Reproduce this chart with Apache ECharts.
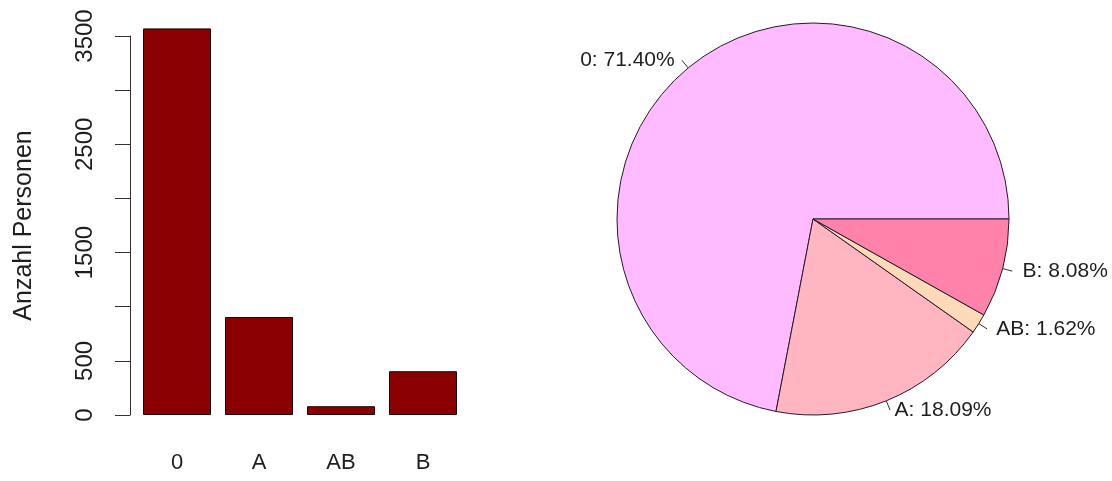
<!DOCTYPE html>
<html>
<head>
<meta charset="utf-8">
<script src="https://cdn.jsdelivr.net/npm/echarts@6/dist/echarts.min.js"></script>
<style>
	html, body { margin: 0; padding: 0; background: #fff; }
	#main { width: 1112px; height: 481px; }
</style>
</head>
<body>
<div id="main"></div>
<script>
// Blutgruppen
var categories = ['0', 'A', 'AB', 'B'];
var counts = [3570, 905, 81, 404];
var pieLabels = ['0: 71.40%', 'A: 18.09%', 'AB: 1.62%', 'B: 8.08%'];
var pieColors = ['#FFBBFF', '#FFB6C1', '#FFDAB9', '#FF82AB'];
var yTickLabels = ['0', '500', '1500', '2500', '3500'];

var font = 'Liberation Sans, Arial, sans-serif';
var txt = '#1e1e1e';
var pieR = 196;
var lineLen = 10;

// R setzt den Text bei 1.1*r, echarts nach der Linie horizontal -> Abstand je Stueck
function labelGap(i){
	var total = 0, acc = 0;
	for (var k = 0; k < counts.length; k++) total += counts[k];
	for (var k = 0; k < i; k++) acc += counts[k];
	var mid = (acc + counts[i] / 2) / total * Math.PI * 2;
	return 1 + Math.abs(Math.cos(mid)) * (0.1 * pieR - lineLen);
}

var pieData = [];
for (var i = 0; i < categories.length; i++) {
	pieData.push({
		name: pieLabels[i],
		value: counts[i],
		itemStyle: { color: pieColors[i] },
		label: { distanceToLabelLine: labelGap(i) }
	});
}

var option = {
	animation: false,
	backgroundColor: '#fff',
	textStyle: { fontFamily: font },
	grid: {
		left: 136,
		top: 36,
		width: 328,
		bottom: 66
	},
	xAxis: {
		type: 'category',
		data: categories,
		axisLine: { show: false },
		axisTick: { show: false },
		axisLabel: {
			margin: 37,
			fontSize: 22,
			color: txt,
			fontFamily: font
		}
	},
	yAxis: {
		type: 'value',
		min: 0,
		max: 3500,
		interval: 500,
		offset: 6,
		name: 'Anzahl Personen',
		nameLocation: 'middle',
		nameRotate: 90,
		nameGap: 93,
		nameTextStyle: { fontSize: 25, color: txt, fontFamily: font },
		splitLine: { show: false },
		axisLine: { show: true, lineStyle: { color: '#333', width: 1 } },
		axisTick: { show: true, length: 15, lineStyle: { color: '#333', width: 1 } },
		axisLabel: {
			rotate: 90,
			margin: 33,
			fontSize: 24,
			color: txt,
			fontFamily: font,
			formatter: function(v){
				var s = String(v);
				return yTickLabels.indexOf(s) >= 0 ? s : '';
			}
		}
	},
	series: [
		{
			type: 'bar',
			data: counts,
			barWidth: 68,
			clip: false,
			itemStyle: {
				color: '#8B0000',
				borderColor: '#1a0000',
				borderWidth: 1
			}
		},
		{
			type: 'pie',
			center: [813, 219],
			radius: pieR,
			startAngle: 0,
			clockwise: false,
			avoidLabelOverlap: false,
			data: pieData,
			itemStyle: {
				borderColor: '#2a1a2a',
				borderWidth: 1
			},
			label: {
				show: true,
				position: 'outside',
				formatter: '{b}',
				fontSize: 21,
				color: txt,
				fontFamily: font
			},
			labelLine: {
				show: true,
				length: lineLen,
				length2: 0,
				smooth: false,
				lineStyle: { color: '#333', width: 1 }
			},
			emphasis: { disabled: true }
		}
	]
};

var myChart = echarts.init(document.getElementById('main'));
myChart.setOption(option);
</script>
</body>
</html>
